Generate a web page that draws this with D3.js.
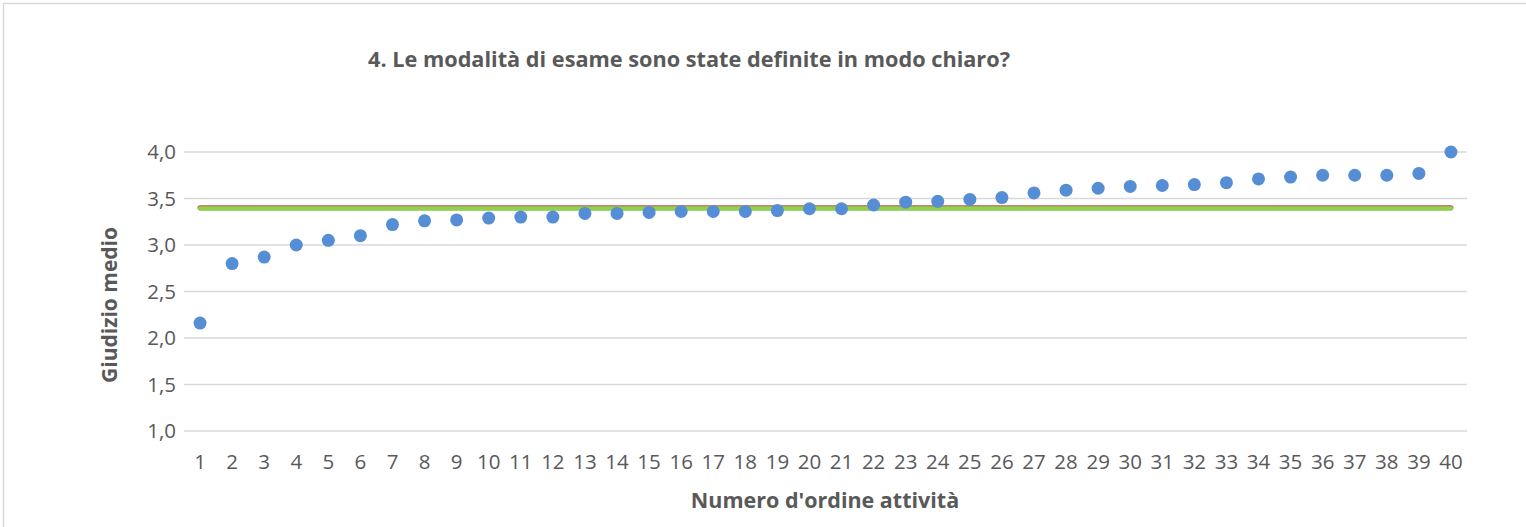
<!DOCTYPE html>
<html>
<head>
<meta charset="utf-8">
<script src="https://cdn.jsdelivr.net/npm/d3@7"></script>
<style>
  body { margin: 0; background: #fff; }
  text { font-family: "Open Sans", sans-serif; fill: #595959; }
</style>
</head>
<body>
<svg id="chart"></svg>
<script>
// dati
const attivita = d3.range(1, 41);
const giudizi = [2.16, 2.80, 2.87, 3.00, 3.05, 3.10, 3.22, 3.26, 3.27, 3.29,
                 3.30, 3.30, 3.34, 3.34, 3.35, 3.36, 3.36, 3.36, 3.37, 3.39,
                 3.39, 3.43, 3.46, 3.47, 3.49, 3.51, 3.56, 3.59, 3.61, 3.63,
                 3.64, 3.65, 3.67, 3.71, 3.73, 3.75, 3.75, 3.75, 3.77, 4.00];
const media = 3.40;
const yTicks = [1.0, 1.5, 2.0, 2.5, 3.0, 3.5, 4.0];
const titolo = "4. Le modalità di esame sono state definite in modo chiaro?";

const width = 1526, height = 527;
const svg = d3.select("#chart").attr("width", width).attr("height", height);

// bordo dell'area grafico
svg.append("rect")
  .attr("x", 3.5).attr("y", 3.5)
  .attr("width", width + 10).attr("height", height + 10)
  .attr("fill", "none").attr("stroke", "#D9D9D9").attr("stroke-width", 1.5);

const x = d3.scaleBand().domain(attivita).range([184, 1467]);
const y = d3.scaleLinear().domain([1, 4]).range([431, 152]);

// griglia
svg.append("g")
  .selectAll("line")
  .data(yTicks)
  .enter().append("line")
  .attr("x1", 184).attr("x2", 1467)
  .attr("y1", d => y(d)).attr("y2", d => y(d))
  .attr("stroke", "#D9D9D9").attr("stroke-width", 1.5);

// etichette asse y
const yAxis = svg.append("g")
  .attr("transform", "translate(176,0)")
  .call(d3.axisLeft(y).tickValues(yTicks).tickSize(0).tickPadding(0)
    .tickFormat(d => d3.format(".1f")(d).replace(".", ",")));
yAxis.select(".domain").remove();
yAxis.selectAll("text").style("font-size", "20.5px").attr("fill", "#595959");

// etichette asse x
const xAxis = svg.append("g")
  .attr("transform", "translate(0,454)")
  .call(d3.axisBottom(x).tickSize(0).tickPadding(0));
xAxis.select(".domain").remove();
xAxis.selectAll("text").style("font-size", "20.5px").attr("fill", "#595959");

// linea della media (bordo rosso + verde)
const xs = [attivita[0], attivita[attivita.length - 1]];
const cx = d => x(d) + x.bandwidth() / 2;
svg.append("line")
  .attr("x1", cx(xs[0])).attr("x2", cx(xs[1]))
  .attr("y1", y(media)).attr("y2", y(media))
  .attr("stroke", "#C0504D").attr("stroke-width", 5)
  .attr("stroke-linecap", "round");
svg.append("line")
  .attr("x1", cx(xs[0])).attr("x2", cx(xs[1]))
  .attr("y1", y(media) + 0.7).attr("y2", y(media) + 0.7)
  .attr("stroke", "#92D050").attr("stroke-width", 4.4)
  .attr("stroke-linecap", "round");

// punti
svg.append("g")
  .selectAll("circle")
  .data(attivita)
  .enter().append("circle")
  .attr("cx", d => cx(d))
  .attr("cy", (d, i) => y(giudizi[i]))
  .attr("r", 6.5)
  .attr("fill", "#558ED5");

// titolo
svg.append("text")
  .attr("x", 689).attr("y", 67)
  .style("text-anchor", "middle")
  .style("font-size", "21.7px").style("font-weight", "bold")
  .text(titolo);

// titoli assi
svg.append("text")
  .attr("transform", "translate(117,305) rotate(-90)")
  .style("text-anchor", "middle")
  .style("font-size", "21px").style("font-weight", "bold")
  .text("Giudizio medio");

svg.append("text")
  .attr("x", 825).attr("y", 508)
  .style("text-anchor", "middle")
  .style("font-size", "21.5px").style("font-weight", "bold")
  .text("Numero d'ordine attività");
</script>
</body>
</html>
